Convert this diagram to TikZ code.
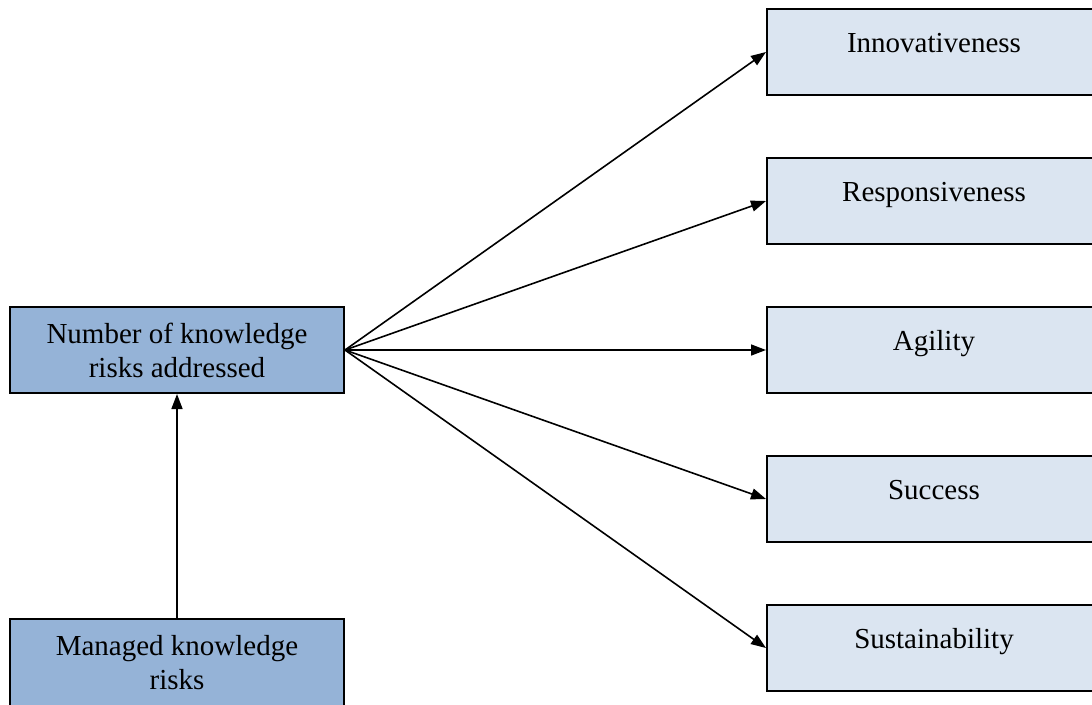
\documentclass[tikz,border=0pt]{standalone}
\usepackage{fontspec}
\setmainfont{Liberation Serif}
\usetikzlibrary{arrows.meta}
\definecolor{causefill}{HTML}{95B3D7}
\definecolor{effectfill}{HTML}{DBE5F1}
\begin{document}
\begin{tikzpicture}[x=1pt,y=-1pt,
  cause/.style={draw,line width=2pt,fill=causefill,minimum width=334pt,minimum height=86pt,align=center,font=\fontsize{29}{34}\selectfont},
  effect/.style={draw,line width=2pt,fill=effectfill,minimum width=334pt,minimum height=86pt,anchor=west,text height=10pt,text depth=10pt,font=\fontsize{29}{34}\selectfont},
  link/.style={line width=1.6pt,-{Triangle[length=15pt,width=11pt]}}]
  \useasboundingbox (0,0) rectangle (1092,704);
  \node[cause] (num) at (177,350) {Number of knowledge\\risks addressed};
  \node[cause,minimum height=88pt] (mgd) at (177,663) {Managed knowledge\\risks};
  \draw[link] (mgd.north) -- (num.south);
  \foreach \name/\txt [count=\i from 0] in {inno/Innovativeness,resp/Responsiveness,agil/Agility,succ/Success,sust/Sustainability}
  {
    \node[effect] (\name) at (766,52+149*\i) {\txt};
    \draw[link] (num.east) -- (\name.west);
  }
\end{tikzpicture}
\end{document}
